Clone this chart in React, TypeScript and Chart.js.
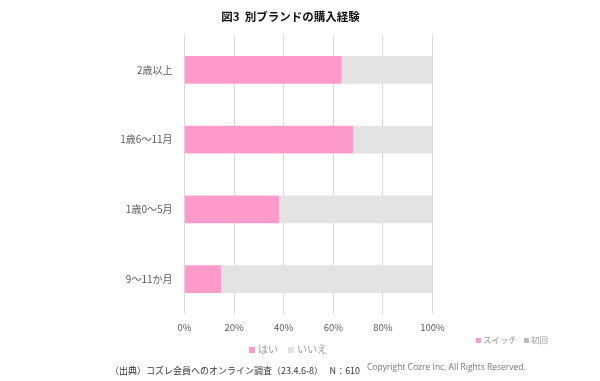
import React, { useEffect, useRef } from "react";
import { Chart, registerables } from "chart.js";

Chart.register(...registerables);

const categories = ["2歳以上", "1歳6～11月", "1歳0～5月", "9～11か月"];
const yesValues = [63.4, 68.0, 38.2, 14.8];
const noValues = [36.6, 32.0, 61.8, 85.2];
const xTicks = [0, 20, 40, 60, 80, 100];

const PINK = "#FF9BCB";
const GRAY = "#E3E3E3";
const FONT = "'Noto Sans CJK JP', 'Noto Sans', sans-serif";

export default function App() {
  const ref = useRef<HTMLCanvasElement | null>(null);

  useEffect(() => {
    if (!ref.current) return;
    const chart = new Chart(ref.current, {
      type: "bar",
      data: {
        labels: categories,
        datasets: [
          { label: "はい", data: yesValues, backgroundColor: PINK, barPercentage: 0.4, categoryPercentage: 1 },
          { label: "いいえ", data: noValues, backgroundColor: GRAY, barPercentage: 0.4, categoryPercentage: 1 },
        ],
      },
      options: {
        indexAxis: "y",
        responsive: false,
        animation: false,
        devicePixelRatio: 1,
        layout: { padding: { left: 0, right: 167.5, top: 35, bottom: 42 } },
        plugins: { legend: { display: false }, title: { display: false }, tooltip: { enabled: false } },
        scales: {
          x: {
            stacked: true,
            min: 0,
            max: 100,
            afterBuildTicks: (scale: any) => {
              scale.ticks = xTicks.map((v) => ({ value: v }));
            },
            afterFit: (scale: any) => {
              scale.height = 25;
            },
            ticks: {
              color: "#595959",
              font: { family: FONT, size: 9.5 },
              padding: 8,
              callback: (v: any) => v + "%",
              maxRotation: 0,
            },
            grid: { color: "#D9D9D9", drawTicks: false, lineWidth: 1 },
            border: { display: false },
          },
          y: {
            stacked: true,
            afterFit: (scale: any) => {
              scale.width = 184.5;
            },
            ticks: { color: "#595959", font: { family: FONT, size: 10 }, padding: 12 },
            grid: { display: false, drawTicks: false },
            border: { display: false },
          },
        },
      },
    });
    return () => chart.destroy();
  }, []);

  return (
    <div style={{ position: "absolute", left: 0, top: 0, width: 600, height: 381, background: "#fff", fontFamily: FONT }}>
      <canvas ref={ref} width={600} height={381} style={{ position: "absolute", left: 0, top: 0 }} />
      <div style={{ position: "absolute", left: 0, width: 581, top: 8, textAlign: "center", fontSize: 11.5, fontWeight: "bold", color: "#111", lineHeight: "16px", whiteSpace: "nowrap" }}>
        図3&nbsp;&nbsp;別ブランドの購入経験
      </div>
      <div style={{ position: "absolute", left: 249, top: 341, fontSize: 10, color: "#999", lineHeight: "16px", whiteSpace: "nowrap" }}>
        <span style={{ display: "inline-block", width: 6, height: 6, background: PINK, marginRight: 3 }} />
        はい
        <span style={{ display: "inline-block", width: 6, height: 6, background: GRAY, marginLeft: 10, marginRight: 3 }} />
        いいえ
      </div>
      <div style={{ position: "absolute", left: 476, top: 332, fontSize: 8.5, color: "#999", lineHeight: "14px", whiteSpace: "nowrap" }}>
        <span style={{ display: "inline-block", width: 5, height: 5, background: PINK, marginRight: 2 }} />
        スイッチ
        <span style={{ display: "inline-block", width: 5, height: 5, background: "#BBBBBB", marginLeft: 7, marginRight: 2 }} />
        初回
      </div>
      <div style={{ position: "absolute", left: 110, top: 363, fontSize: 9, color: "#333", lineHeight: "15px", whiteSpace: "nowrap" }}>
        （出典）コズレ会員へのオンライン調査（23.4.6-8）　 N：610
      </div>
      <div style={{ position: "absolute", left: 367, top: 360, fontSize: 8.5, color: "#777", lineHeight: "14px", whiteSpace: "nowrap", fontFamily: "'Open Sans', sans-serif" }}>
        Copyright Cozre Inc. All Rights Reserved.
      </div>
    </div>
  );
}
